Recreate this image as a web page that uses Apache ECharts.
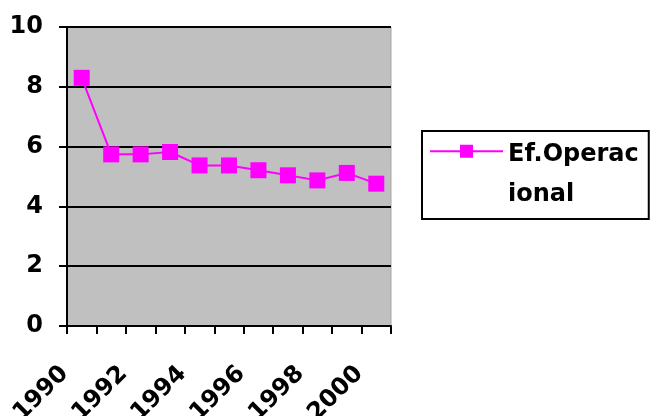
<!DOCTYPE html>
<html><head><meta charset="utf-8">
<script src="https://cdn.jsdelivr.net/npm/echarts@6/dist/echarts.min.js"></script>
<style>html,body{margin:0;padding:0;background:#fff}#c{width:651px;height:416px}</style>
</head><body><div id="c"></div>
<script>
var categories = ['1990','1991','1992','1993','1994','1995','1996','1997','1998','1999','2000'];
var seriesName = 'Ef.Operacional';
var values = [8.3, 5.74, 5.74, 5.82, 5.37, 5.37, 5.21, 5.04, 4.87, 5.12, 4.76];
var yTicks = {min: 0, max: 10, interval: 2};

var chart = echarts.init(document.getElementById('c'));
var font = 'DejaVu Sans';
chart.setOption({
  backgroundColor: '#fff',
  animation: false,
  grid: {left: 67, right: 260, top: 27, bottom: 90, containLabel: false, outerBoundsMode: 'none', show: true, backgroundColor: '#C0C0C0', borderColor: '#a8a8a8', borderWidth: 1},
  legend: {
    left: 422, top: 131,
    orient: 'vertical',
    backgroundColor: '#fff', borderColor: '#000', borderWidth: 2,
    padding: [4, 10, 4, 8],
    itemWidth: 73, itemHeight: 80, itemGap: 0,
    icon: 'path://M0,25h73v2H0zM30,19.5h13v13H30zM0,79.9h0.01v0.01H0z',
    formatter: function (n) { return n.slice(0, 9) + '\n' + n.slice(9); },
    textStyle: {fontFamily: font, fontWeight: 'bold', fontSize: 24, color: '#000', lineHeight: 40, padding: [0, 0, 0, 0]},
    data: [seriesName]
  },
  xAxis: {
    type: 'category', data: categories, boundaryGap: true,
    axisLine: {lineStyle: {color: '#000', width: 2}},
    axisTick: {show: true, interval: 0, length: 8, lineStyle: {color: '#000', width: 2}},
    axisLabel: {interval: 1, rotate: 45, margin: 27, padding: [0, 24, 0, 0], fontFamily: font, fontWeight: 'bold', fontSize: 24, color: '#000'},
    splitLine: {show: false}
  },
  yAxis: {
    type: 'value', min: yTicks.min, max: yTicks.max, interval: yTicks.interval,
    axisLine: {show: true, lineStyle: {color: '#000', width: 2}},
    axisTick: {show: true, length: 8, lineStyle: {color: '#000', width: 2}},
    axisLabel: {margin: 24, fontFamily: font, fontWeight: 'bold', fontSize: 24, color: '#000'},
    splitLine: {show: true, lineStyle: {color: '#000', width: 2}}
  },
  series: [{
    name: seriesName, type: 'line', data: values,
    symbol: 'rect', symbolSize: 16,
    itemStyle: {color: '#FF00FF'},
    lineStyle: {color: '#FF00FF', width: 2}
  }]
});
</script></body></html>
